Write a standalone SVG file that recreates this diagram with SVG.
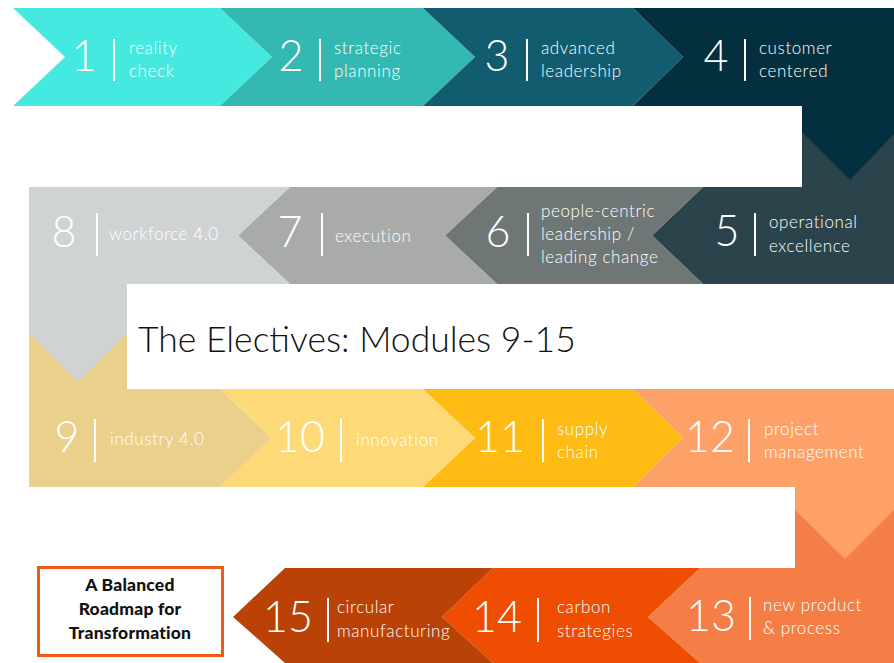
<svg xmlns="http://www.w3.org/2000/svg" width="894" height="663" viewBox="0 0 894 663">
<style>
.num{font-family:Lato,"Liberation Sans",sans-serif;font-weight:300;font-size:43px;fill:#fff;text-anchor:middle}
.lbl{font-family:Lato,"Liberation Sans",sans-serif;font-weight:300;font-size:17px;fill:#fff;letter-spacing:0.6px}
.bar{stroke:#fff;stroke-width:2}
.title{font-family:Lato,"Liberation Sans",sans-serif;font-weight:300;font-size:35.5px;fill:#111}
.box{font-family:Lato,"Liberation Sans",sans-serif;font-weight:900;font-size:17.5px;fill:#111;text-anchor:middle;letter-spacing:0.2px}
</style>
<rect width="894" height="663" fill="#fff"/>
<g id="connectors"></g>

<g id="m5">
<polygon points="802,106 894,106 894,284 703,284 652,235.5 703,187 802,187" fill="#2B434B"/>
<text class="num" x="727" y="246">5</text>
<line class="bar" x1="755" y1="213" x2="755" y2="256"/>
<text class="lbl" x="769" y="228">operational</text>
<text class="lbl" x="769" y="252">excellence</text>
</g>
<g id="m9">
<polygon points="29,284 127,284 127,389 220,389 272,438 220,487 29,487" fill="#EAD08B"/>
<text class="num" x="67" y="452">9</text>
<line class="bar" x1="95" y1="419" x2="95" y2="462"/>
<text class="lbl" x="110" y="445">industry 4.0</text>
</g>
<g id="m13">
<polygon points="795,487 894,487 894,663 700,663 648,617 700,568 795,568" fill="#F47E46"/>
<text class="num" x="711" y="631">13</text>
<line class="bar" x1="750" y1="597" x2="750" y2="640"/>
<text class="lbl" x="763" y="611">new product</text>
<text class="lbl" x="763" y="634">&amp; process</text>
</g>

<g id="m1">
<polygon points="13,8 220,8 272,57 220,106 13,106 65,57" fill="#45E9DF"/>
<text class="num" x="84" y="71">1</text>
<line class="bar" x1="114" y1="39" x2="114" y2="81"/>
<text class="lbl" x="129" y="54">reality</text>
<text class="lbl" x="129" y="77">check</text>
</g>
<g id="m2">
<polygon points="220,8 423,8 475,57 423,106 220,106 272,57" fill="#33B9B1"/>
<text class="num" x="291" y="71">2</text>
<line class="bar" x1="320" y1="39" x2="320" y2="81"/>
<text class="lbl" x="334" y="54">strategic</text>
<text class="lbl" x="334" y="77">planning</text>
</g>
<g id="m3">
<polygon points="423,8 633,8 683,57 633,106 423,106 475,57" fill="#125C6F"/>
<text class="num" x="497" y="71">3</text>
<line class="bar" x1="527" y1="39" x2="527" y2="81"/>
<text class="lbl" x="541" y="54">advanced</text>
<text class="lbl" x="541" y="77">leadership</text>
</g>
<g id="m4">
<polygon points="633,8 894,8 894,134 850,180 802,132 802,106 633,106 683,57" fill="#032F3F"/>
<text class="num" x="716" y="71">4</text>
<line class="bar" x1="745" y1="39" x2="745" y2="81"/>
<text class="lbl" x="759" y="54">customer</text>
<text class="lbl" x="759" y="77">centered</text>
</g>

<g id="m6">
<polygon points="497,187 703,187 652,235.5 703,284 497,284 445,235.5" fill="#6F7776"/>
<text class="num" x="498" y="247">6</text>
<line class="bar" x1="528" y1="213" x2="528" y2="256"/>
<text class="lbl" x="541" y="217">people-centric</text>
<text class="lbl" x="541" y="240">leadership /</text>
<text class="lbl" x="541" y="263">leading change</text>
</g>
<g id="m7">
<polygon points="290,187 497,187 445,235.5 497,284 290,284 238,235.5" fill="#A9ABAA"/>
<text class="num" x="290" y="247">7</text>
<line class="bar" x1="322" y1="213" x2="322" y2="256"/>
<text class="lbl" x="335" y="242">execution</text>
</g>
<g id="m8">
<polygon points="29,187 290,187 238,235.5 290,284 127,284 127,333 78,382 29,333" fill="#D0D3D4"/>
<text class="num" x="64" y="247">8</text>
<line class="bar" x1="97" y1="213" x2="97" y2="256"/>
<text class="lbl" x="109" y="240">workforce 4.0</text>
</g>

<g id="title">
<text class="title" x="138" y="352">The Electives: Modules 9-15</text>
</g>

<g id="m10">
<polygon points="220,389 423,389 475,438 423,487 220,487 272,438" fill="#FED978"/>
<text class="num" x="300" y="452">10</text>
<line class="bar" x1="341" y1="419" x2="341" y2="462"/>
<text class="lbl" x="356" y="446">innovation</text>
</g>
<g id="m11">
<polygon points="423,389 633,389 683,438 633,487 423,487 475,438" fill="#FDBB13"/>
<text class="num" x="500" y="452">11</text>
<line class="bar" x1="543" y1="419" x2="543" y2="462"/>
<text class="lbl" x="557" y="435">supply</text>
<text class="lbl" x="557" y="458">chain</text>
</g>
<g id="m12">
<polygon points="633,389 894,389 894,510 845,559 795,510 795,487 633,487 683,438" fill="#FEA168"/>
<text class="num" x="710" y="452">12</text>
<line class="bar" x1="749" y1="419" x2="749" y2="462"/>
<text class="lbl" x="764" y="435">project</text>
<text class="lbl" x="764" y="458">management</text>
</g>

<g id="m14">
<polygon points="493,568 700,568 648,617 700,663 493,663 442,617" fill="#EF4D01"/>
<text class="num" x="497" y="632">14</text>
<line class="bar" x1="538" y1="598" x2="538" y2="642"/>
<text class="lbl" x="557" y="613">carbon</text>
<text class="lbl" x="557" y="637">strategies</text>
</g>
<g id="m15">
<polygon points="285,568 493,568 442,617 493,663 285,663 233,617" fill="#BB4207"/>
<text class="num" x="288" y="632">15</text>
<line class="bar" x1="328" y1="598" x2="328" y2="642"/>
<text class="lbl" x="337" y="613">circular</text>
<text class="lbl" x="337" y="637">manufacturing</text>
</g>

<g id="roadmap">
<rect x="38.5" y="567.5" width="184" height="88" fill="#fff" stroke="#F05A14" stroke-width="3"/>
<text class="box" x="130" y="591">A Balanced</text>
<text class="box" x="130" y="615">Roadmap for</text>
<text class="box" x="130" y="639">Transformation</text>
</g>
</svg>
